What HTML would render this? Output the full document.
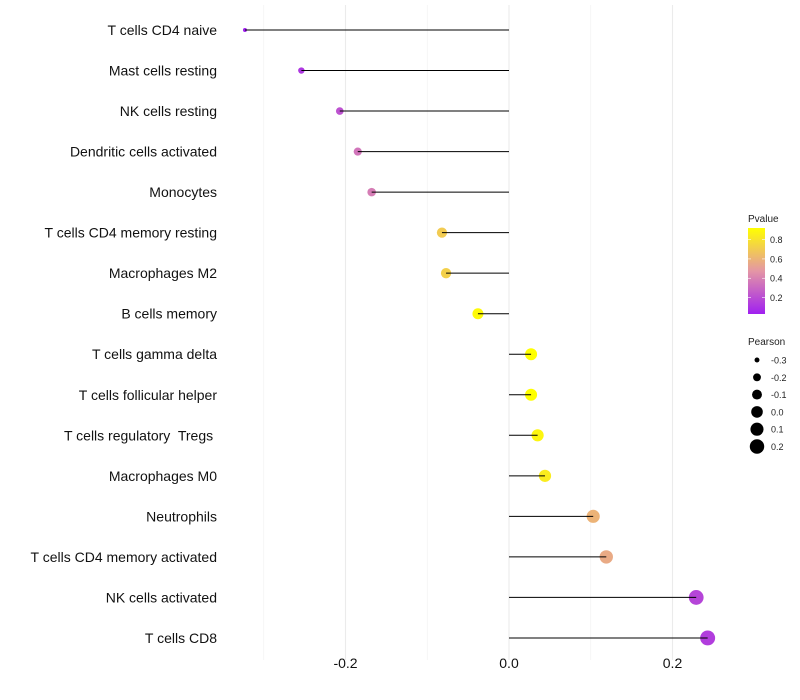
<!DOCTYPE html>
<html><head><meta charset="utf-8">
<style>
body{margin:0;background:#fff;}
svg{display:block;font-family:"Liberation Sans",Arial,sans-serif;}
</style></head>
<body>
<svg id="chart" width="800" height="700">
<g id="grid"></g><g id="marks"></g><g id="labels"></g><g id="legend"></g>
</svg>
<script>
const categories=["T cells CD4 naive","Mast cells resting","NK cells resting","Dendritic cells activated","Monocytes","T cells CD4 memory resting","Macrophages M2","B cells memory","T cells gamma delta","T cells follicular helper","T cells regulatory  Tregs ","Macrophages M0","Neutrophils","T cells CD4 memory activated","NK cells activated","T cells CD8"];
const pearson=[-0.323,-0.254,-0.207,-0.185,-0.168,-0.082,-0.077,-0.038,0.027,0.027,0.035,0.044,0.103,0.119,0.229,0.243];
const pvalue=[0.03,0.12,0.22,0.35,0.38,0.7,0.72,0.9,0.92,0.92,0.88,0.84,0.6,0.56,0.17,0.14];
const xTicks=[-0.2,0.0,0.2];
const xTickLabels=["-0.2","0.0","0.2"];
const pTicks=[0.2,0.4,0.6,0.8];
const sizeTicks=[-0.3,-0.2,-0.1,0.0,0.1,0.2];

const NS="http://www.w3.org/2000/svg";
const x=v=>509+v*817.5;
const y=i=>30+i*40.53;
const rOf=v=>Math.sqrt(4+Math.max(0,(v+0.323))/0.566*52);
function lerp(a,b,t){return a.map((c,i)=>Math.round(c+(b[i]-c)*t));}
function col(p){
  const lo=[160,32,240],mid=[228,150,165],hi=[255,255,0];
  const t=Math.max(0,Math.min(1,(p-0.03)/(0.92-0.03)));
  const c=t<0.5?lerp(lo,mid,t*2):lerp(mid,hi,(t-0.5)*2);
  return `rgb(${c[0]},${c[1]},${c[2]})`;
}
function mk(tag,attrs,parent,text){const e=document.createElementNS(NS,tag);for(const k in attrs)e.setAttribute(k,attrs[k]);if(text!==undefined)e.textContent=text;parent.appendChild(e);return e;}
const grid=document.getElementById('grid'),marks=document.getElementById('marks'),labels=document.getElementById('labels'),legend=document.getElementById('legend');
[-0.3,-0.1,0.1].forEach(v=>{const l=mk('line',{x1:x(v),x2:x(v),y1:5,y2:660,stroke:'#f0f0f0','stroke-width':0.6},grid);

});
xTicks.forEach((v,i)=>{const l=mk('line',{x1:x(v),x2:x(v),y1:5,y2:660,stroke:'#ebebeb','stroke-width':1.1},grid);


const t=mk('text',{x:x(v),y:668,'text-anchor':'middle','font-size':14,fill:'#111'},labels,xTickLabels[i]);

});
categories.forEach((c,i)=>{
  const t=mk('text',{x:217,y:y(i)+5,'text-anchor':'end','font-size':14,fill:'#111','xml:space':'preserve'},labels,c);
  t.style.whiteSpace='pre';
  
  
  const d=mk('circle',{cx:x(pearson[i]),cy:y(i),r:rOf(pearson[i]),fill:col(pvalue[i])},marks);
  
  
  const s=mk('line',{x1:x(0),x2:x(pearson[i]),y1:y(i),y2:y(i),stroke:'#000','stroke-width':1},marks);
  
  
});
const lt=mk('text',{x:748,y:222,'font-size':10,fill:'#222'},legend,'Pvalue');


const defs=mk('defs',{},legend);
const g=mk('linearGradient',{id:'pg',x1:0,y1:1,x2:0,y2:0},defs);
for(let k=0;k<=10;k++){mk('stop',{offset:k/10,'stop-color':col(0.03+k/10*0.89)},g);}
const bar=mk('rect',{x:748,y:228,width:17,height:86,fill:'url(#pg)'},legend);


pTicks.forEach(p=>{const yy=314-(p-0.03)/0.89*86;
  const t=mk('text',{x:770,y:yy+3.5,'font-size':9,fill:'#222'},legend,p.toFixed(1));
  
  
  mk('line',{x1:748,x2:751,y1:yy,y2:yy,stroke:'#fff','stroke-width':0.6},legend);
  mk('line',{x1:762,x2:765,y1:yy,y2:yy,stroke:'#fff','stroke-width':0.6},legend);});
const st=mk('text',{x:748,y:345,'font-size':10,fill:'#222'},legend,'Pearson');


sizeTicks.forEach((v,i)=>{const yy=360+i*17.3;
  const c=mk('circle',{cx:757,cy:yy,r:rOf(v),fill:'#000'},legend);
  
  
  const t=mk('text',{x:771,y:yy+3.5,'font-size':9,fill:'#222'},legend,v.toFixed(1));
  
  });
</script>
</body></html>
